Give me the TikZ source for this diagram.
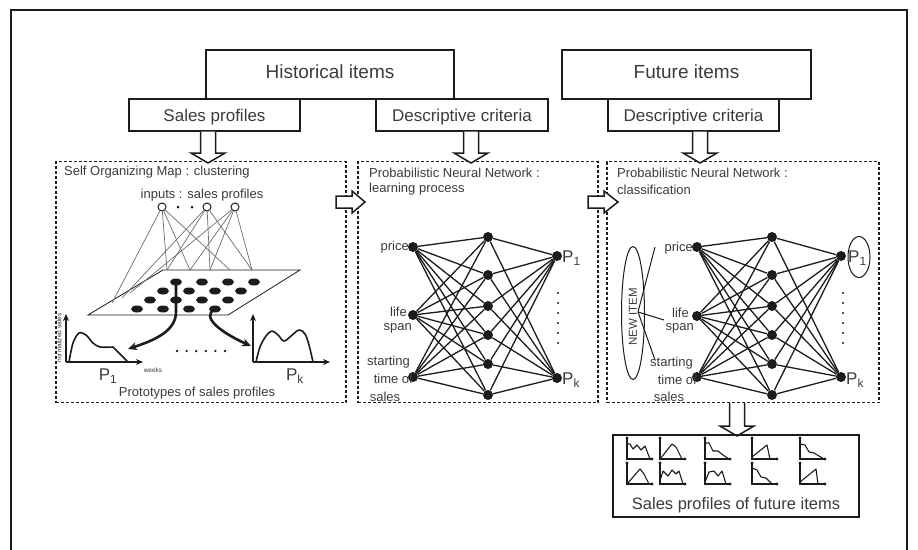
\documentclass[tikz,border=0pt]{standalone}
\usepackage{fontspec}
\setmainfont{Liberation Sans}
\usetikzlibrary{calc,arrows.meta,shapes.geometric}
\definecolor{ink}{HTML}{1C1C1C}
\definecolor{txt}{HTML}{3C3C3C}
\definecolor{wire}{HTML}{6E6E6E}

% hollow block arrows: x, y of shaft start, y of head base, y of tip
\newcommand\downblock[4]{%
  \draw[ink,line width=1.5pt,fill=white,line join=miter]
    (#1-7.5,#2) -- (#1-7.5,#3) -- (#1-17,#3) -- (#1,#4) -- (#1+17,#3) -- (#1+7.5,#3) -- (#1+7.5,#2);}
% y, x of shaft start, x of head base, x of tip
\newcommand\rightblock[4]{%
  \draw[ink,line width=1.5pt,fill=white,line join=miter]
    (#2,#1-6) -- (#3,#1-6) -- (#3,#1-11) -- (#4,#1) -- (#3,#1+11) -- (#3,#1+6) -- (#2,#1+6) -- cycle;}
% small sales chart for the result box
\newcommand\minichart[3]{%
  \begin{scope}[shift={(#1,#2)}]
    \draw[ink,line width=1.1pt] (0,-21) -- (0,0) -- (25,0);
    \fill[ink] (0,-21) circle (1.7) (25,0) circle (1.7);
    \draw[ink,line width=1.1pt,line join=round] plot[sharp plot] coordinates {#3};
  \end{scope}}

\begin{document}
\begin{tikzpicture}[x=1pt,y=-1pt,
  bigbox/.style={draw=ink,line width=1.6pt,inner sep=0pt,text=txt,
    font=\fontsize{19}{21}\selectfont,text height=13.7pt,text depth=6pt},
  smallbox/.style={draw=ink,line width=1.6pt,inner sep=0pt,text=txt,
    font=\fontsize{17}{19}\selectfont,text height=12.2pt,text depth=0pt},
  panel/.style={draw=ink,line width=1.2pt,dash pattern=on 3pt off 2pt},
  ttl/.style={font=\fontsize{13}{15}\selectfont,text=txt,inner sep=0pt,anchor=west},
  lbl/.style={font=\fontsize{13}{15}\selectfont,text=txt,inner sep=0pt},
  tiny/.style={font=\fontsize{6.5}{7}\selectfont,text=txt,inner sep=0pt},
  plab/.style={font=\fontsize{17}{19}\selectfont,text=txt,inner sep=0pt},
  neuron/.style={circle,fill=ink,inner sep=0pt,minimum size=10pt},
  syn/.style={ink,line width=1.3pt},
  cell/.style={ellipse,fill=ink,inner sep=0pt,minimum width=12pt,minimum height=7pt},
  inp/.style={circle,draw=ink,line width=1pt,fill=white,inner sep=0pt,minimum size=8pt},
  feed/.style={wire,line width=0.7pt},
  axis/.style={ink,line width=1.8pt,-{Stealth[length=7pt,width=6pt]}},
  bmu/.style={ink,line width=2.6pt,-{Stealth[length=9pt,width=8pt]}},
  curve/.style={ink,line width=1.6pt,line join=round}]

\useasboundingbox (0,0) rectangle (918,549);
\fill[white] (0,0) rectangle (918,549);

% outer frame
\draw[ink,line width=2pt] (11,560) -- (11,10) -- (907,10) -- (907,560);

% ---------------- header boxes ----------------
\node[bigbox,minimum width=248pt,minimum height=49pt] (hist) at (330,74.5) {Historical items};
\node[smallbox,minimum width=171pt,minimum height=32pt,fill=white] (hsp) at (214.5,115) {Sales profiles};
\node[smallbox,minimum width=172pt,minimum height=32pt,fill=white] (hdc) at (462,115) {Descriptive criteria};
\node[bigbox,minimum width=249pt,minimum height=49pt] (fut) at (686.5,74.5) {Future items};
\node[smallbox,minimum width=171pt,minimum height=32pt,fill=white] (fdc) at (693.5,115) {Descriptive criteria};

% ---------------- dashed panels ----------------
\node[panel,minimum width=290pt,minimum height=241pt,inner sep=0pt] (som) at (201,282) {};
\node[panel,minimum width=240pt,minimum height=241pt,inner sep=0pt] (pnnl) at (478,282) {};
\node[panel,minimum width=272pt,minimum height=241pt,inner sep=0pt] (pnnc) at (743,282) {};

% block arrows
\downblock{208}{131.5}{153}{163}
\downblock{471}{131.5}{153}{163}
\downblock{700}{131.5}{153}{163}
\rightblock{202}{336}{352}{365}
\rightblock{202}{588}{604}{618}
\downblock{737}{403}{426}{436}

% panel titles
\node[ttl] (somt) at (64,172) {Self Organizing Map : clustering};
\node[ttl] (pnt1) at (369,173) {Probabilistic Neural Network :};
\node[ttl] (pnt2) at (369,189) {learning process};
\node[ttl] (pct1) at (617,173) {Probabilistic Neural Network :};
\node[ttl] (pct2) at (617,190) {classification};

% ---------------- self organizing map ----------------
\node[lbl] (inl) at (202,195) {inputs : sales profiles};
\node[inp] (c1) at (162,207) {};
\node[inp] (c2) at (207,207) {};
\node[inp] (c3) at (235,207) {};
\fill[ink] (178,207) circle (1.5) (192,207) circle (1.5);

% map plane
\draw[ink,line width=0.8pt,fill=white] (163,270) -- (300,270) -- (228,315) -- (88,315) -- cycle;

% input wiring
\foreach \t in {(112,303),(167,270),(190,270),(230,270)} \draw[feed] (c1) -- \t;
\foreach \t in {(122,298),(167,270),(210,270),(252,270)} \draw[feed] (c2) -- \t;
\foreach \t in {(130,293),(190,270),(210,270),(252,270)} \draw[feed] (c3) -- \t;

% neurons of the map
\foreach \r/\y/\x in {1/282/176,2/291/163,3/300/150,4/309/137}
  \foreach \c in {1,...,4}
    \node[cell] (p\r\c) at ({\x+26*(\c-1)},\y) {};

% winning units sent to their prototypes
\draw[bmu] (p11.center) -- (176,312) .. controls (176,332) and (152,341) .. (128,349);
\draw[bmu] (p44.center) .. controls (200,317) and (222,333) .. (251,346);

% prototype P1
\draw[axis] (66,362) -- (66,314);
\draw[axis] (66,362) -- (143,362);
\draw[curve] plot[smooth,tension=0.5] coordinates {(69,362) (73,343) (79,333) (86,335) (93,343) (100,347) (113,347)} -- (128,362);
\node[tiny,rotate=90] (nsl) at (59,338) {normalized sales};
\node[tiny] (wkl) at (153,370) {weeks};
\node[plab] (p1l) at (108,376) {P\textsubscript{1}};

% prototype Pk
\draw[axis] (253,362) -- (253,314);
\draw[axis] (253,362) -- (330,362);
\draw[curve] plot[smooth,tension=0.6] coordinates {(256,362) (260,347) (266,336) (272,331) (278,335) (284,341) (291,336) (299,330) (305,334) (309,345) (313,362)};
\node[plab] (pkl) at (295,376) {P\textsubscript{k}};

\foreach \i in {0,...,5} \fill[ink] ({177+9.6*\i},351) circle (1.3);

\node[lbl] (prl) at (197,393) {Prototypes of sales profiles};

% ---------------- neural network: learning ----------------
\foreach \n/\y in {1/247,2/315,3/377} \node[neuron] (mi\n) at (413,\y) {};
\foreach \n/\y in {1/237,2/275,3/306,4/335,5/364,6/395} \node[neuron] (mh\n) at (488,\y) {};
\node[neuron] (mo1) at (557,256) {};
\node[neuron] (mo2) at (557,378) {};
\foreach \i in {1,2,3} \foreach \h in {1,...,6} \draw[syn] (mi\i) -- (mh\h);
\foreach \h in {1,...,6} \foreach \o in {1,2} \draw[syn] (mh\h) -- (mo\o);
\foreach \i in {0,...,5} \fill[ink] (558,{293+10*\i}) circle (1.2);

\node[lbl,anchor=east] (mpr) at (409,247) {price};
\node[lbl,anchor=east] (mli) at (407,312) {life};
\node[lbl,anchor=east] (msp) at (412,328) {span};
\node[lbl,anchor=east] (mst) at (410,362) {starting};
\node[lbl,anchor=east] (mti) at (413,379) {time of};
\node[lbl] (msa) at (385,397) {sales};
\node[plab,anchor=west] (mp1) at (562,258) {P\textsubscript{1}};
\node[plab,anchor=west] (mpk) at (562,380) {P\textsubscript{k}};

% ---------------- neural network: classification ----------------
\foreach \n/\y in {1/247,2/316,3/377} \node[neuron] (ri\n) at (697,\y) {};
\foreach \n/\y in {1/237,2/275,3/306,4/335,5/364,6/395} \node[neuron] (rh\n) at (772,\y) {};
\node[neuron] (ro1) at (841,256) {};
\node[neuron] (ro2) at (841,377) {};
\foreach \i in {1,2,3} \foreach \h in {1,...,6} \draw[syn] (ri\i) -- (rh\h);
\foreach \h in {1,...,6} \foreach \o in {1,2} \draw[syn] (rh\h) -- (ro\o);
\foreach \i in {0,...,5} \fill[ink] (843,{293+10*\i}) circle (1.2);

\node[lbl,anchor=east] (rpr) at (693,248) {price};
\node[lbl,anchor=east] (rli) at (689,313) {life};
\node[lbl,anchor=east] (rsp) at (694,328) {span};
\node[lbl,anchor=east] (rst) at (693,363) {starting};
\node[lbl,anchor=east] (rti) at (697,380) {time of};
\node[lbl] (rsa) at (669,397) {sales};
\node[plab,anchor=west] (rp1) at (848,258) {P\textsubscript{1}};
\node[plab,anchor=west] (rpk) at (846,380) {P\textsubscript{k}};
\node[draw=ink,line width=1pt,ellipse,minimum width=22pt,minimum height=41pt,inner sep=0pt] (sel) at (859,257) {};

% the new item and its criteria
\node[draw=ink,line width=1pt,ellipse,minimum width=23pt,minimum height=133pt,inner sep=0pt] (new) at (633,313) {};
\node[rotate=90,font=\fontsize{11.5}{13}\selectfont,text=txt,inner sep=0pt] (newt) at (633,317) {NEW ITEM};
\coordinate (br) at (638,312);
\draw[ink,line width=1pt] (br) -- (655,247);
\draw[ink,line width=1pt] (br) -- (664,320);
\draw[ink,line width=1pt] (br) -- (655,360);

% ---------------- resulting sales profiles ----------------
\node[draw=ink,line width=1.6pt,minimum width=246pt,minimum height=82pt,inner sep=0pt] (res) at (736,476) {};
\minichart{627}{459}{(0,-15) (3,-15) (6,-10) (10,-14) (14,-9) (18,-13) (23,0)}
\minichart{660}{459}{(0,0) (12,-15) (16,-12) (22,0)}
\minichart{705}{459}{(0,-16) (4,-16) (8,-8) (13,-8) (18,-4) (24,0)}
\minichart{752}{459}{(0,-2) (15,-14) (18,0)}
\minichart{800}{459}{(0,-15) (5,-14) (9,-7) (14,-6) (19,-3) (24,0)}
\minichart{627}{484}{(0,0) (13,-15) (17,-10) (22,0)}
\minichart{660}{484}{(0,-3) (3,-13) (8,-8) (12,-14) (16,-10) (19,-13) (23,0)}
\minichart{705}{484}{(0,-2) (4,-12) (9,-13) (13,-8) (17,-13) (21,0)}
\minichart{752}{484}{(0,-16) (5,-14) (9,-7) (14,-6) (20,0)}
\minichart{800}{484}{(0,-2) (16,-15) (18,0)}
\node[font=\fontsize{16.5}{18}\selectfont,text=txt,inner sep=0pt] (rest) at (736,505) {Sales profiles of future items};

\end{tikzpicture}
\end{document}
